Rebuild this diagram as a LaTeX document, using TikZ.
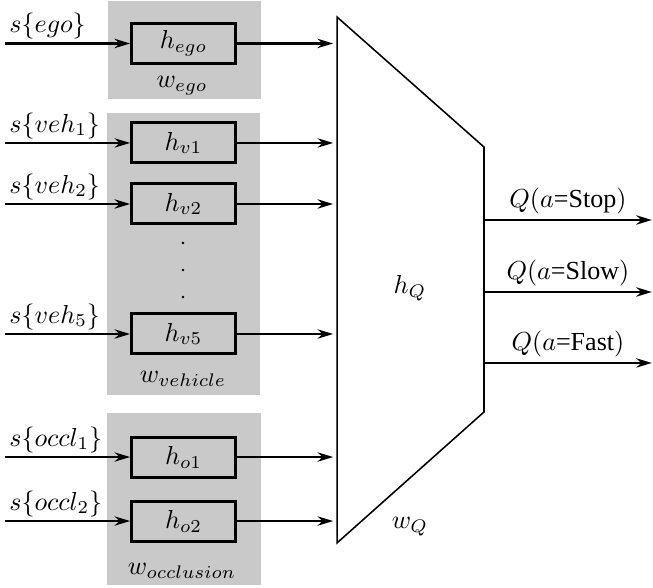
\documentclass[tikz,border=0pt]{standalone}
\usepackage[no-math]{fontspec}
\setmainfont{Liberation Serif}
\usetikzlibrary{arrows.meta}

\begin{document}
\begin{tikzpicture}[
  panel/.style={fill=black!21},
  unit/.style={draw, line width=1.15pt, minimum width=1.4cm, minimum height=0.54cm, inner sep=0pt},
  flow/.style={-{Stealth[length=6pt,width=3.6pt]}, thick},
  inlabel/.style={above right, inner sep=1.5pt}
]
\useasboundingbox (0,0) rectangle (8.8155,-7.938);

% shared weight groups
\fill[panel] (1.458,-0.014) rectangle (3.524,-1.337);
\fill[panel] (1.445,-1.526) rectangle (3.510,-5.333);
\fill[panel] (1.445,-5.576) rectangle (3.524,-7.898);

% Q head
\coordinate (qa) at (4.550,-0.230);
\coordinate (qb) at (6.534,-1.985);
\coordinate (qc) at (6.534,-5.562);
\coordinate (qd) at (4.550,-7.330);
\draw[semithick] (qa) -- (qb) -- (qc) -- (qd) -- cycle;
\node (hq) at (5.535,-3.888) {$h_Q$};
\node (wq) at (5.535,-7.115) {$w_Q$};

% one encoder per input
\foreach \name/\y/\inp/\hid in {ego/-0.587/ego/ego, v1/-1.930/veh_1/v1, v2/-2.754/veh_2/v2,
    v5/-4.509/veh_5/v5, o1/-6.170/occl_1/o1, o2/-7.034/occl_2/o2} {
  \node[unit] (h\name) at (2.477,\y) {$h_{\hid}$};
  \coordinate (s\name) at (0.0675,\y);
  \node[inlabel] (l\name) at (s\name) {$s\{\inp\}$};
  \draw[flow] (s\name) -- (h\name);
  \draw[flow, shorten >=1.5pt] (h\name) -- (h\name -| qa);
}

\node (wego) at (2.457,-1.161) {$w_{ego}$};
\node (wveh) at (2.470,-5.117) {$w_{vehicle}$};
\node (wocc) at (2.457,-7.709) {$w_{occlusion}$};

% skipped vehicles
\foreach \d in {-3.280,-3.645,-4.010}
  \fill (2.470,\d) circle (0.55pt);

% actions
\foreach \k/\y/\act in {1/-2.970/Stop, 2/-3.942/Slow, 3/-4.900/Fast} {
  \coordinate (a\k) at (8.80,\y);
  \draw[flow] (a\k -| qb) -- node[above, inner sep=2pt] {$Q(a$=\act$)$} (a\k);
}
\end{tikzpicture}
\end{document}
